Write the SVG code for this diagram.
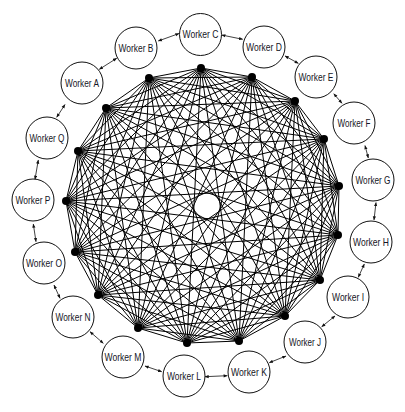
<svg xmlns="http://www.w3.org/2000/svg" width="405" height="412" viewBox="0 0 405 412">
<style>
.mesh line{stroke:#000;stroke-width:1;stroke-linecap:round}
.arr{stroke:#111;stroke-width:0.8;fill:none;marker-start:url(#ah);marker-end:url(#ah)}
.dot{fill:#000}
.w circle{fill:#fff;stroke:#111;stroke-width:1}
.w text{font-family:"Liberation Sans",Arial,sans-serif;font-size:10.5px;fill:#151525;text-anchor:middle}
</style>
<defs>
<marker id="ah" viewBox="0 0 6 6" refX="5.5" refY="3" markerWidth="4.5" markerHeight="4" markerUnits="userSpaceOnUse" orient="auto-start-reverse">
<path d="M0,0.6 L6,3 L0,5.4 Z" fill="#111"/>
</marker>
</defs>
<rect width="405" height="412" fill="#fff"/>
<g id="mesh" class="mesh">
<line x1="201" y1="68" x2="252" y2="77"/><line x1="201" y1="68" x2="295" y2="101"/><line x1="201" y1="68" x2="324" y2="139"/><line x1="201" y1="68" x2="339" y2="186"/><line x1="201" y1="68" x2="338" y2="235"/><line x1="201" y1="68" x2="320" y2="280"/><line x1="201" y1="68" x2="285" y2="316"/><line x1="201" y1="68" x2="239" y2="341"/><line x1="201" y1="68" x2="187" y2="343"/><line x1="201" y1="68" x2="138" y2="328"/><line x1="201" y1="68" x2="98" y2="295"/><line x1="201" y1="68" x2="75" y2="252"/><line x1="201" y1="68" x2="66" y2="201"/><line x1="201" y1="68" x2="78" y2="151"/><line x1="201" y1="68" x2="106" y2="108"/><line x1="201" y1="68" x2="149" y2="78"/>
<line x1="252" y1="77" x2="295" y2="101"/><line x1="252" y1="77" x2="324" y2="139"/><line x1="252" y1="77" x2="339" y2="186"/><line x1="252" y1="77" x2="338" y2="235"/><line x1="252" y1="77" x2="320" y2="280"/><line x1="252" y1="77" x2="285" y2="316"/><line x1="252" y1="77" x2="239" y2="341"/><line x1="252" y1="77" x2="187" y2="343"/><line x1="252" y1="77" x2="138" y2="328"/><line x1="252" y1="77" x2="98" y2="295"/><line x1="252" y1="77" x2="75" y2="252"/><line x1="252" y1="77" x2="66" y2="201"/><line x1="252" y1="77" x2="78" y2="151"/><line x1="252" y1="77" x2="106" y2="108"/><line x1="252" y1="77" x2="149" y2="78"/>
<line x1="295" y1="101" x2="324" y2="139"/><line x1="295" y1="101" x2="339" y2="186"/><line x1="295" y1="101" x2="338" y2="235"/><line x1="295" y1="101" x2="320" y2="280"/><line x1="295" y1="101" x2="285" y2="316"/><line x1="295" y1="101" x2="239" y2="341"/><line x1="295" y1="101" x2="187" y2="343"/><line x1="295" y1="101" x2="138" y2="328"/><line x1="295" y1="101" x2="98" y2="295"/><line x1="295" y1="101" x2="75" y2="252"/><line x1="295" y1="101" x2="66" y2="201"/><line x1="295" y1="101" x2="78" y2="151"/><line x1="295" y1="101" x2="106" y2="108"/><line x1="295" y1="101" x2="149" y2="78"/>
<line x1="324" y1="139" x2="339" y2="186"/><line x1="324" y1="139" x2="338" y2="235"/><line x1="324" y1="139" x2="320" y2="280"/><line x1="324" y1="139" x2="285" y2="316"/><line x1="324" y1="139" x2="239" y2="341"/><line x1="324" y1="139" x2="187" y2="343"/><line x1="324" y1="139" x2="138" y2="328"/><line x1="324" y1="139" x2="98" y2="295"/><line x1="324" y1="139" x2="75" y2="252"/><line x1="324" y1="139" x2="66" y2="201"/><line x1="324" y1="139" x2="78" y2="151"/><line x1="324" y1="139" x2="106" y2="108"/><line x1="324" y1="139" x2="149" y2="78"/>
<line x1="339" y1="186" x2="338" y2="235"/><line x1="339" y1="186" x2="320" y2="280"/><line x1="339" y1="186" x2="285" y2="316"/><line x1="339" y1="186" x2="239" y2="341"/><line x1="339" y1="186" x2="187" y2="343"/><line x1="339" y1="186" x2="138" y2="328"/><line x1="339" y1="186" x2="98" y2="295"/><line x1="339" y1="186" x2="75" y2="252"/><line x1="339" y1="186" x2="66" y2="201"/><line x1="339" y1="186" x2="78" y2="151"/><line x1="339" y1="186" x2="106" y2="108"/><line x1="339" y1="186" x2="149" y2="78"/>
<line x1="338" y1="235" x2="320" y2="280"/><line x1="338" y1="235" x2="285" y2="316"/><line x1="338" y1="235" x2="239" y2="341"/><line x1="338" y1="235" x2="187" y2="343"/><line x1="338" y1="235" x2="138" y2="328"/><line x1="338" y1="235" x2="98" y2="295"/><line x1="338" y1="235" x2="75" y2="252"/><line x1="338" y1="235" x2="66" y2="201"/><line x1="338" y1="235" x2="78" y2="151"/><line x1="338" y1="235" x2="106" y2="108"/><line x1="338" y1="235" x2="149" y2="78"/>
<line x1="320" y1="280" x2="285" y2="316"/><line x1="320" y1="280" x2="239" y2="341"/><line x1="320" y1="280" x2="187" y2="343"/><line x1="320" y1="280" x2="138" y2="328"/><line x1="320" y1="280" x2="98" y2="295"/><line x1="320" y1="280" x2="75" y2="252"/><line x1="320" y1="280" x2="66" y2="201"/><line x1="320" y1="280" x2="78" y2="151"/><line x1="320" y1="280" x2="106" y2="108"/><line x1="320" y1="280" x2="149" y2="78"/>
<line x1="285" y1="316" x2="239" y2="341"/><line x1="285" y1="316" x2="187" y2="343"/><line x1="285" y1="316" x2="138" y2="328"/><line x1="285" y1="316" x2="98" y2="295"/><line x1="285" y1="316" x2="75" y2="252"/><line x1="285" y1="316" x2="66" y2="201"/><line x1="285" y1="316" x2="78" y2="151"/><line x1="285" y1="316" x2="106" y2="108"/><line x1="285" y1="316" x2="149" y2="78"/>
<line x1="239" y1="341" x2="187" y2="343"/><line x1="239" y1="341" x2="138" y2="328"/><line x1="239" y1="341" x2="98" y2="295"/><line x1="239" y1="341" x2="75" y2="252"/><line x1="239" y1="341" x2="66" y2="201"/><line x1="239" y1="341" x2="78" y2="151"/><line x1="239" y1="341" x2="106" y2="108"/><line x1="239" y1="341" x2="149" y2="78"/>
<line x1="187" y1="343" x2="138" y2="328"/><line x1="187" y1="343" x2="98" y2="295"/><line x1="187" y1="343" x2="75" y2="252"/><line x1="187" y1="343" x2="66" y2="201"/><line x1="187" y1="343" x2="78" y2="151"/><line x1="187" y1="343" x2="106" y2="108"/><line x1="187" y1="343" x2="149" y2="78"/>
<line x1="138" y1="328" x2="98" y2="295"/><line x1="138" y1="328" x2="75" y2="252"/><line x1="138" y1="328" x2="66" y2="201"/><line x1="138" y1="328" x2="78" y2="151"/><line x1="138" y1="328" x2="106" y2="108"/><line x1="138" y1="328" x2="149" y2="78"/>
<line x1="98" y1="295" x2="75" y2="252"/><line x1="98" y1="295" x2="66" y2="201"/><line x1="98" y1="295" x2="78" y2="151"/><line x1="98" y1="295" x2="106" y2="108"/><line x1="98" y1="295" x2="149" y2="78"/>
<line x1="75" y1="252" x2="66" y2="201"/><line x1="75" y1="252" x2="78" y2="151"/><line x1="75" y1="252" x2="106" y2="108"/><line x1="75" y1="252" x2="149" y2="78"/>
<line x1="66" y1="201" x2="78" y2="151"/><line x1="66" y1="201" x2="106" y2="108"/><line x1="66" y1="201" x2="149" y2="78"/>
<line x1="78" y1="151" x2="106" y2="108"/><line x1="78" y1="151" x2="149" y2="78"/>
<line x1="106" y1="108" x2="149" y2="78"/>
</g>
<g id="hub-points">
<circle class="dot" cx="201" cy="68" r="4"/><circle class="dot" cx="252" cy="77" r="4"/><circle class="dot" cx="295" cy="101" r="4"/><circle class="dot" cx="324" cy="139" r="4"/><circle class="dot" cx="339" cy="186" r="4"/><circle class="dot" cx="338" cy="235" r="4"/><circle class="dot" cx="320" cy="280" r="4"/><circle class="dot" cx="285" cy="316" r="4"/><circle class="dot" cx="239" cy="341" r="4"/><circle class="dot" cx="187" cy="343" r="4"/><circle class="dot" cx="138" cy="328" r="4"/><circle class="dot" cx="98" cy="295" r="4"/><circle class="dot" cx="75" cy="252" r="4"/><circle class="dot" cx="66" cy="201" r="4"/><circle class="dot" cx="78" cy="151" r="4"/><circle class="dot" cx="106" cy="108" r="4"/><circle class="dot" cx="149" cy="78" r="4"/>
</g>
<g id="connectors">
<line class="arr" x1="99.3" y1="69.3" x2="116.7" y2="58.3"/>
<line class="arr" x1="158.3" y1="41" x2="179" y2="33.5"/>
<line class="arr" x1="221.7" y1="35" x2="242.7" y2="39.3"/>
<line class="arr" x1="285" y1="56" x2="298.3" y2="63.3"/>
<line class="arr" x1="333.8" y1="93.8" x2="342" y2="103.3"/>
<line class="arr" x1="365" y1="145.5" x2="368.3" y2="158"/>
<line class="arr" x1="376" y1="202.5" x2="374" y2="220"/>
<line class="arr" x1="364.3" y1="264" x2="358.3" y2="277.3"/>
<line class="arr" x1="335" y1="316" x2="321.7" y2="326.7"/>
<line class="arr" x1="286" y1="356" x2="269.3" y2="362.7"/>
<line class="arr" x1="227.3" y1="375.7" x2="205" y2="376.7"/>
<line class="arr" x1="161.7" y1="371.7" x2="145" y2="366"/>
<line class="arr" x1="103.3" y1="343.3" x2="90" y2="331.7"/>
<line class="arr" x1="60" y1="298.3" x2="54" y2="285"/>
<line class="arr" x1="36" y1="241.7" x2="33.3" y2="224"/>
<line class="arr" x1="35" y1="179.3" x2="38.3" y2="160"/>
<line class="arr" x1="56.7" y1="117.3" x2="65" y2="104.5"/>
</g>
<g id="worker-a" class="w"><circle cx="82" cy="83" r="21"/><text x="82" y="86.8" textLength="34" lengthAdjust="spacingAndGlyphs">Worker A</text></g>
<g id="worker-b" class="w"><circle cx="136" cy="48" r="21"/><text x="136" y="51.8" textLength="35" lengthAdjust="spacingAndGlyphs">Worker B</text></g>
<g id="worker-c" class="w"><circle cx="200.5" cy="34.5" r="21"/><text x="200.5" y="38.3" textLength="36" lengthAdjust="spacingAndGlyphs">Worker C</text></g>
<g id="worker-d" class="w"><circle cx="264" cy="47" r="21"/><text x="264" y="50.8" textLength="36" lengthAdjust="spacingAndGlyphs">Worker D</text></g>
<g id="worker-e" class="w"><circle cx="316" cy="77" r="21"/><text x="316" y="80.8" textLength="35" lengthAdjust="spacingAndGlyphs">Worker E</text></g>
<g id="worker-f" class="w"><circle cx="354" cy="123" r="21"/><text x="354" y="126.8" textLength="33" lengthAdjust="spacingAndGlyphs">Worker F</text></g>
<g id="worker-g" class="w"><circle cx="373" cy="180" r="21"/><text x="373" y="183.8" textLength="35" lengthAdjust="spacingAndGlyphs">Worker G</text></g>
<g id="worker-h" class="w"><circle cx="371" cy="242" r="21"/><text x="371" y="245.8" textLength="36" lengthAdjust="spacingAndGlyphs">Worker H</text></g>
<g id="worker-i" class="w"><circle cx="348" cy="297" r="21"/><text x="348" y="300.8" textLength="32" lengthAdjust="spacingAndGlyphs">Worker I</text></g>
<g id="worker-j" class="w"><circle cx="305" cy="342" r="21"/><text x="305" y="345.8" textLength="32" lengthAdjust="spacingAndGlyphs">Worker J</text></g>
<g id="worker-k" class="w"><circle cx="249" cy="372" r="21"/><text x="249" y="375.8" textLength="36" lengthAdjust="spacingAndGlyphs">Worker K</text></g>
<g id="worker-l" class="w"><circle cx="184" cy="376" r="21"/><text x="184" y="379.8" textLength="34" lengthAdjust="spacingAndGlyphs">Worker L</text></g>
<g id="worker-m" class="w"><circle cx="123" cy="357" r="21"/><text x="123" y="360.8" textLength="37" lengthAdjust="spacingAndGlyphs">Worker M</text></g>
<g id="worker-n" class="w"><circle cx="73" cy="317" r="21"/><text x="73" y="320.8" textLength="35" lengthAdjust="spacingAndGlyphs">Worker N</text></g>
<g id="worker-o" class="w"><circle cx="44" cy="263" r="21"/><text x="44" y="266.8" textLength="36" lengthAdjust="spacingAndGlyphs">Worker O</text></g>
<g id="worker-p" class="w"><circle cx="33" cy="200" r="21"/><text x="33" y="203.8" textLength="35" lengthAdjust="spacingAndGlyphs">Worker P</text></g>
<g id="worker-q" class="w"><circle cx="47" cy="138" r="21"/><text x="47" y="141.8" textLength="35" lengthAdjust="spacingAndGlyphs">Worker Q</text></g>
</svg>
